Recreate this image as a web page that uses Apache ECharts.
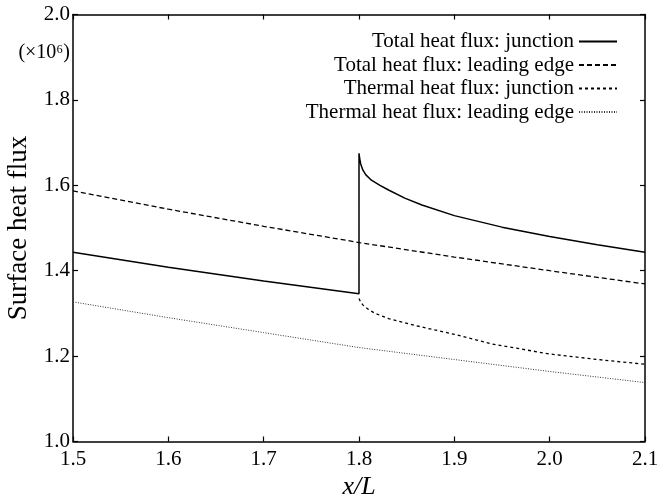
<!DOCTYPE html>
<html>
<head>
<meta charset="utf-8">
<script src="https://cdn.jsdelivr.net/npm/echarts@6/dist/echarts.min.js"></script>
<style>
  html, body { margin: 0; padding: 0; background: #fff; }
  #chart { width: 661px; height: 501px; }
</style>
</head>
<body>
<div id="chart"></div>
<script>
// values (heat flux in units of 1e6)
const seriesNames = [
  'Total heat flux: junction',
  'Total heat flux: leading edge',
  'Thermal heat flux: junction',
  'Thermal heat flux: leading edge'
]

const junctionX = [1.5, 1.6, 1.7, 1.8, 1.8, 1.8008, 1.8018, 1.804, 1.807, 1.813, 1.822, 1.831, 1.848, 1.866, 1.9, 1.95, 2.0, 2.05, 2.1]
const totalJunction = [1.443, 1.408, 1.376, 1.346, 1.675, 1.662, 1.650, 1.636, 1.625, 1.612, 1.600, 1.589, 1.570, 1.554, 1.529, 1.502, 1.480, 1.461, 1.443]

const leadingX = [1.5, 1.6, 1.7, 1.8, 1.9, 2.0, 2.1]
const totalLeading = [1.587, 1.544, 1.504, 1.466, 1.432, 1.400, 1.369]
const thermalLeading = [1.327, 1.290, 1.255, 1.220, 1.192, 1.164, 1.138]

const thermalJX = [1.8, 1.8015, 1.804, 1.8065, 1.81, 1.817, 1.831, 1.848, 1.866, 1.9, 1.94, 2.0, 2.05, 2.1]
const thermalJunction = [1.335, 1.328, 1.320, 1.315, 1.309, 1.300, 1.288, 1.278, 1.268, 1.251, 1.228, 1.205, 1.192, 1.181]

const xRange = [1.5, 2.1]
const yRange = [1.0, 2.0]

const pairs = (xs, ys) => xs.map((x, i) => [x, ys[i]])

const font = 'Liberation Serif'

const frameAxis = {
  axisLine: { show: true, lineStyle: { color: '#000', width: 1.5 } },
  axisTick: { show: true, inside: true, length: 5, lineStyle: { color: '#000', width: 1.2 } },
  splitLine: { show: false }
}

const chart = echarts.init(document.getElementById('chart'))

chart.setOption({
  animation: false,
  grid: { left: 73, right: 16, top: 14.5, bottom: 59.5, outerBoundsMode: 'none' },
  legend: {
    orient: 'vertical',
    right: 38,
    top: 26,
    align: 'right',
    itemWidth: 38,
    itemHeight: 12,
    itemGap: 2.5,
    data: seriesNames,
    itemStyle: { opacity: 0 },
    textStyle: { fontFamily: font, fontSize: 21, color: '#000', padding: [0, 0, 0, 0] }
  },
  graphic: [
    {
      type: 'text',
      x: 70,
      y: 53,
      style: {
        text: '(×10⁶)',
        fontFamily: font,
        fontSize: 20,
        fill: '#000',
        align: 'right',
        verticalAlign: 'middle'
      }
    }
  ],
  xAxis: [
    {
      type: 'value',
      min: xRange[0],
      max: xRange[1],
      interval: 0.1,
      name: 'x/L',
      nameLocation: 'middle',
      nameGap: 33,
      nameTextStyle: { fontFamily: font, fontSize: 26, fontStyle: 'italic', color: '#000' },
      axisLabel: {
        fontFamily: font, fontSize: 21, color: '#000', margin: 7,
        formatter: v => v.toFixed(1)
      },
      ...frameAxis
    },
    {
      type: 'value',
      position: 'top',
      min: xRange[0],
      max: xRange[1],
      interval: 0.1,
      axisLabel: { show: false },
      ...frameAxis
    }
  ],
  yAxis: [
    {
      type: 'value',
      min: yRange[0],
      max: yRange[1],
      interval: 0.2,
      name: 'Surface heat flux',
      nameLocation: 'middle',
      nameGap: 35,
      nameTextStyle: { fontFamily: font, fontSize: 27, color: '#000' },
      axisLabel: {
        fontFamily: font, fontSize: 21, color: '#000', margin: 3,
        formatter: v => v.toFixed(1)
      },
      ...frameAxis
    },
    {
      type: 'value',
      position: 'right',
      min: yRange[0],
      max: yRange[1],
      interval: 0.2,
      axisLabel: { show: false },
      ...frameAxis
    }
  ],
  series: [
    {
      name: seriesNames[0],
      type: 'line',
      symbol: 'none',
      data: pairs(junctionX, totalJunction),
      lineStyle: { color: '#000', width: 1.5, type: 'solid' },
      itemStyle: { color: '#000' }
    },
    {
      name: seriesNames[1],
      type: 'line',
      symbol: 'none',
      data: pairs(leadingX, totalLeading),
      lineStyle: { color: '#000', width: 1.3, type: [5, 3] },
      itemStyle: { color: '#000' }
    },
    {
      name: seriesNames[2],
      type: 'line',
      symbol: 'none',
      data: pairs(thermalJX, thermalJunction),
      lineStyle: { color: '#000', width: 1.3, type: [3, 3] },
      itemStyle: { color: '#000' }
    },
    {
      name: seriesNames[3],
      type: 'line',
      symbol: 'none',
      data: pairs(leadingX, thermalLeading),
      lineStyle: { color: '#333', width: 1, type: [1, 1.5] },
      itemStyle: { color: '#333' }
    }
  ]
})

window.addEventListener('resize', () => {
  chart.resize()
})
</script>
</body>
</html>
